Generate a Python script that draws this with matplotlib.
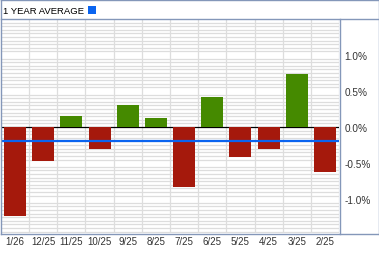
import matplotlib
matplotlib.use("Agg")
import matplotlib.pyplot as plt
import numpy as np
from matplotlib.lines import Line2D
from matplotlib.patches import Rectangle

# Data
months = ["1/26", "12/25", "11/25", "10/25", "9/25", "8/25",
          "7/25", "6/25", "5/25", "4/25", "3/25", "2/25"]
returns = [-1.23, -0.47, 0.16, -0.31, 0.30, 0.13,
           -0.83, 0.42, -0.41, -0.30, 0.74, -0.62]
year_avg = -0.20
y_ticks = [-1.0, -0.5, 0.0, 0.5, 1.0]
title = "1 YEAR AVERAGE"

W, H = 379, 255
plt.rcParams["font.family"] = ["Liberation Sans", "DejaVu Sans"]

fig = plt.figure(figsize=(W / 100, H / 100), dpi=100)
fig.patch.set_facecolor("white")

# plot area in pixels: x 1..339, y 20..234 (from top)
ax = fig.add_axes([1 / W, 1 - 234 / H, 338 / W, 214 / H])

x = np.arange(len(months))
colors = ["#458a00" if v >= 0 else "#a5190c" for v in returns]
ax.bar(x, returns, width=0.78, color=colors, zorder=3)
ax.axhline(0, color="black", lw=0.9, zorder=2)
ax.axhline(year_avg, color="#0a64f0", lw=1.6, zorder=4)

ax.set_xlim(-0.5, len(months) - 0.5)
ax.set_ylim(-1.47, 1.5)

# grid
ax.set_xticks(x + 0.5, minor=True)
ax.set_yticks(np.arange(-1.45, 1.5, 0.05), minor=True)
ax.grid(True, which="minor", color="#dddddd", lw=0.9, zorder=0)
ax.set_axisbelow(True)

ax.set_xticks(x)
ax.set_xticklabels(months, fontsize=7, color="#333333")
ax.yaxis.tick_right()
ax.set_yticks(y_ticks)
ax.set_yticklabels(["%.1f%%" % v for v in y_ticks], fontsize=7.2, color="#333333")
ax.tick_params(axis="both", which="both", length=0)
ax.tick_params(axis="x", pad=2)
ax.tick_params(axis="y", pad=4)
for s in ax.spines.values():
    s.set_visible(False)

# frame
bc = "#8497b9"
def px(xp, yp):
    return xp / W, 1 - yp / H
fig.add_artist(Line2D(*zip(px(0.5, 0.5), px(378.5, 0.5)), color=bc, lw=1))
fig.add_artist(Line2D(*zip(px(0.5, 0.5), px(0.5, 234.5)), color=bc, lw=1))
fig.add_artist(Line2D(*zip(px(378.5, 0.5), px(378.5, 234.5)), color=bc, lw=1))
fig.add_artist(Line2D(*zip(px(0.5, 234.5), px(378.5, 234.5)), color=bc, lw=1))
fig.add_artist(Line2D(*zip(px(0.5, 19.5), px(378.5, 19.5)), color=bc, lw=1))
fig.add_artist(Line2D(*zip(px(339.5, 19.5), px(339.5, 234.5)), color=bc, lw=1))

# title and legend swatch
fig.text(3 / W, 1 - 11 / H, title, fontsize=6.8, va="center", ha="left", color="black")
fig.add_artist(Rectangle(px(88, 15), 8 / W, 8 / H, transform=fig.transFigure,
                         facecolor="#0a64f0", edgecolor="none"))

fig.savefig("out.png", dpi=100)
